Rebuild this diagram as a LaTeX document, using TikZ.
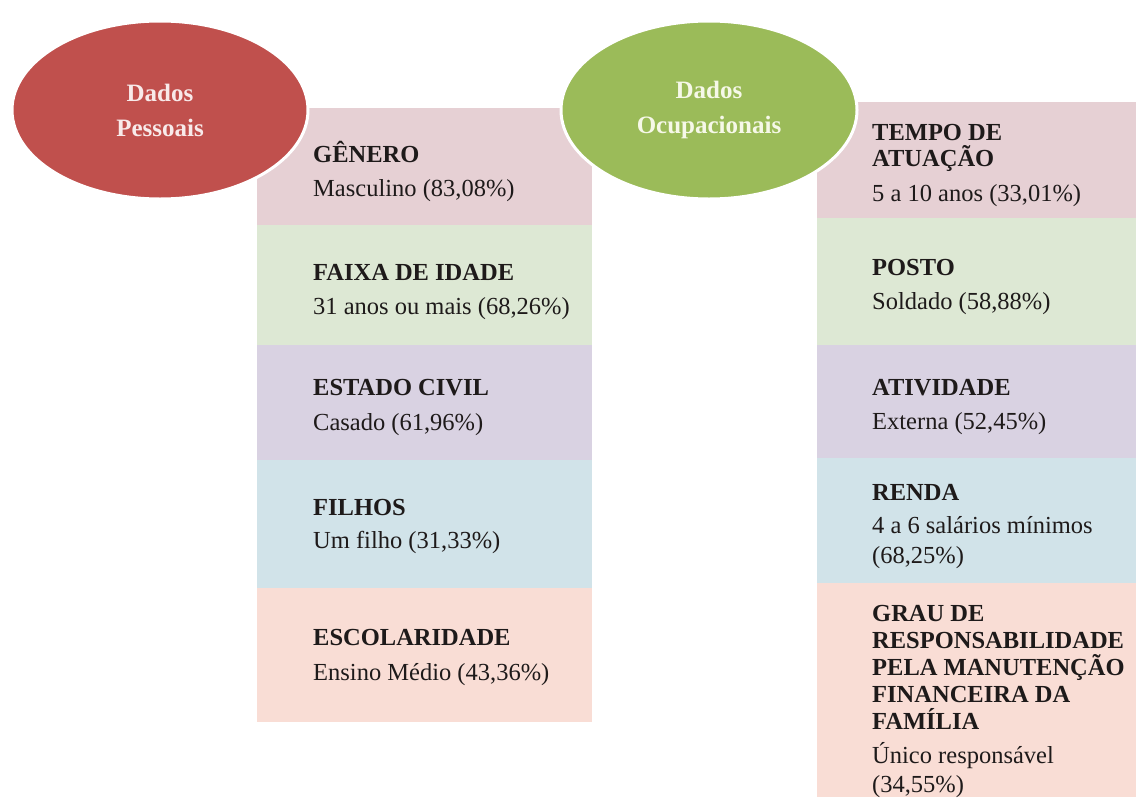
\documentclass[tikz,border=0pt]{standalone}
\usepackage{fontspec}
\setmainfont{Liberation Serif}
\usetikzlibrary{shapes.geometric}
\definecolor{cpink}{RGB}{230,208,212}
\definecolor{cgreen}{RGB}{221,232,212}
\definecolor{clav}{RGB}{217,210,226}
\definecolor{cblue}{RGB}{209,227,233}
\definecolor{cpeach}{RGB}{249,221,213}
\definecolor{cred}{RGB}{192,80,77}
\definecolor{cgrn}{RGB}{155,187,89}
\definecolor{ctext}{RGB}{30,26,26}
\tikzset{
  box/.style={rectangle, draw=none, inner sep=0pt, anchor=north west},
  hd/.style={anchor=base west, inner sep=0pt, text=ctext, font=\fontsize{24.5}{27}\selectfont\bfseries},
  val/.style={anchor=base west, inner sep=0pt, text=ctext, font=\fontsize{24.5}{27}\selectfont},
  oval/.style={ellipse, draw=white, line width=3pt, minimum width=296pt, minimum height=178pt, inner sep=0pt, align=center, font=\fontsize{25}{35}\selectfont\bfseries}
}
\begin{document}
\begin{tikzpicture}[x=1pt,y=-1pt]
\useasboundingbox[fill=white] (0,0) rectangle (1139,798);
% left column boxes
\node[box, fill=cpink,  minimum width=335pt, minimum height=117pt] (l1) at (257,108) {};
\node[box, fill=cgreen, minimum width=335pt, minimum height=120pt] (l2) at (257,225) {};
\node[box, fill=clav,   minimum width=335pt, minimum height=115pt] (l3) at (257,345) {};
\node[box, fill=cblue,  minimum width=335pt, minimum height=128pt] (l4) at (257,460) {};
\node[box, fill=cpeach, minimum width=335pt, minimum height=134pt] (l5) at (257,588) {};
% right column boxes
\node[box, fill=cpink,  minimum width=319pt, minimum height=116pt] (r1) at (817,102) {};
\node[box, fill=cgreen, minimum width=319pt, minimum height=127pt] (r2) at (817,218) {};
\node[box, fill=clav,   minimum width=319pt, minimum height=113pt] (r3) at (817,345) {};
\node[box, fill=cblue,  minimum width=319pt, minimum height=125pt] (r4) at (817,458) {};
\node[box, fill=cpeach, minimum width=319pt, minimum height=214pt] (r5) at (817,583) {};
% ellipses
\node[oval, fill=cred, text={rgb,255:red,248;green,234;blue,234}] (dp) at (160,110) {Dados\\Pessoais};
\node[oval, fill=cgrn, text={rgb,255:red,246;green,248;blue,232}] (do) at (709,110) {Dados\\Ocupacionais};
% left texts
\node[hd]  (t11) at (313,162) {GÊNERO};
\node[val] (t12) at (313,196) {Masculino (83,08\%)};
\node[hd]  (t21) at (313,280) {FAIXA DE IDADE};
\node[val] (t22) at (313,314) {31 anos ou mais (68,26\%)};
\node[hd]  (t31) at (313,395) {ESTADO CIVIL};
\node[val] (t32) at (313,430) {Casado (61,96\%)};
\node[hd]  (t41) at (313,515) {FILHOS};
\node[val] (t42) at (313,548) {Um filho (31,33\%)};
\node[hd]  (t51) at (313,645) {ESCOLARIDADE};
\node[val] (t52) at (313,680) {Ensino Médio (43,36\%)};
% right texts
\node[hd]  (s11) at (872,140) {TEMPO DE};
\node[hd]  (s12) at (872,166) {ATUAÇÃO};
\node[val] (s13) at (872,201) {5 a 10 anos (33,01\%)};
\node[hd]  (s21) at (872,275) {POSTO};
\node[val] (s22) at (872,309) {Soldado (58,88\%)};
\node[hd]  (s31) at (872,395) {ATIVIDADE};
\node[val] (s32) at (872,429) {Externa (52,45\%)};
\node[hd]  (s41) at (872,500) {RENDA};
\node[val] (s42) at (872,533) {4 a 6 salários mínimos};
\node[val] (s43) at (872,563) {(68,25\%)};
\node[hd]  (s51) at (872,621) {GRAU DE};
\node[hd]  (s52) at (872,648) {RESPONSABILIDADE};
\node[hd]  (s53) at (872,675) {PELA MANUTENÇÃO};
\node[hd]  (s54) at (872,702) {FINANCEIRA DA};
\node[hd]  (s55) at (872,729) {FAMÍLIA};
\node[val] (s56) at (872,763) {Único responsável};
\node[val] (s57) at (872,792) {(34,55\%)};
\end{tikzpicture}
\end{document}
